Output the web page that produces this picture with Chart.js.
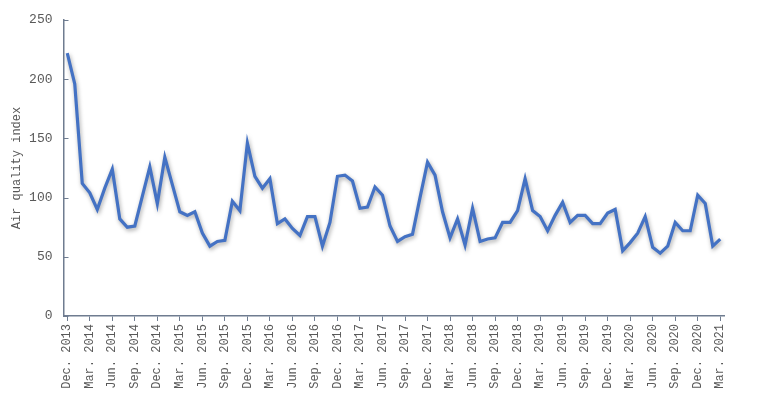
<!DOCTYPE html>
<html>
<head>
<meta charset="utf-8">
<script src="https://cdn.jsdelivr.net/npm/chart.js@4"></script>
<style>
  html, body { margin: 0; padding: 0; background: #fff; }
  #wrap { width: 769px; height: 398px; }
</style>
</head>
<body>
<div id="wrap"><canvas id="aqiChart" width="769" height="398"></canvas></div>
<script>
// monthly air quality index, Dec 2013 - Mar 2021
var monthNames = ['Jan.', 'Feb.', 'Mar.', 'Apr.', 'May.', 'Jun.', 'Jul.', 'Aug.', 'Sep.', 'Oct.', 'Nov.', 'Dec.'];
var aqiValues = [
  222, 196, 112, 104, 90, 108, 124, 82, 75, 76, 101, 126,
  95, 134, 111, 88, 85, 88, 70, 59, 63, 64, 97, 89,
  146, 118, 108, 116, 78, 82, 74, 68, 84, 84, 59, 79,
  118, 119, 114, 91, 92, 109, 102, 76, 63, 67, 69, 100,
  130, 119, 88, 66, 82, 60, 91, 63, 65, 66, 79, 79,
  89, 116, 89, 84, 72, 85, 96, 79, 85, 85, 78, 78,
  87, 90, 55, 62, 70, 84, 58, 53, 59, 79, 72, 72,
  102, 95, 59, 65
];
var yTicks = [0, 50, 100, 150, 200, 250];

var months = [];
for (var i = 0; i < aqiValues.length; i++) {
  var m = (11 + i) % 12;
  var yr = 2013 + Math.floor((11 + i) / 12);
  months.push(monthNames[m] + ' ' + yr);
}

var axisColor = '#6f7c90';
var textColor = '#595959';
var xFont = { family: '"Liberation Mono", monospace', size: 12 };
var yFont = { family: '"Liberation Mono", monospace', size: 13 };

var lineShadow = {
  id: 'lineShadow',
  beforeDatasetsDraw: function(chart) {
    var ctx = chart.ctx;
    ctx.save();
    ctx.shadowColor = 'rgba(0,0,0,0.35)';
    ctx.shadowBlur = 4;
    ctx.shadowOffsetX = 1;
    ctx.shadowOffsetY = 2;
  },
  afterDatasetsDraw: function(chart) {
    chart.ctx.restore();
  }
};

// y ticks point inward, into the plot
var innerYTicks = {
  id: 'innerYTicks',
  afterDraw: function(chart) {
    var ctx = chart.ctx, y = chart.scales.y, left = chart.chartArea.left;
    ctx.save();
    ctx.strokeStyle = axisColor;
    ctx.lineWidth = 1;
    y.ticks.forEach(function(t) {
      var py = Math.round(y.getPixelForValue(t.value)) + 0.5;
      ctx.beginPath();
      ctx.moveTo(left, py);
      ctx.lineTo(left + 5, py);
      ctx.stroke();
    });
    ctx.restore();
  }
};

new Chart(document.getElementById('aqiChart'), {
  type: 'line',
  data: {
    labels: months,
    datasets: [{
      data: aqiValues,
      borderColor: '#4472c4',
      borderWidth: 3.2,
      pointRadius: 0,
      tension: 0,
      fill: false
    }]
  },
  options: {
    responsive: false,
    animation: false,
    layout: { padding: { left: 0, top: 20, right: 45, bottom: 0 } },
    plugins: {
      legend: { display: false },
      tooltip: { enabled: false }
    },
    scales: {
      x: {
        type: 'category',
        offset: true,
        afterFit: function(scale) { scale.height = 82; },
        grid: {
          display: true,
          offset: false,
          drawOnChartArea: false,
          tickLength: 5,
          tickColor: function(c) { return c.index % 3 === 0 ? axisColor : 'rgba(0,0,0,0)'; }
        },
        border: { color: axisColor, width: 1.5 },
        ticks: {
          autoSkip: false,
          minRotation: 90,
          maxRotation: 90,
          padding: 3,
          color: textColor,
          font: xFont,
          callback: function(v, idx) { return idx % 3 === 0 ? months[idx] : ''; }
        }
      },
      y: {
        min: 0,
        max: 250,
        afterFit: function(scale) { scale.width = 63.5; },
        afterBuildTicks: function(scale) { scale.ticks = yTicks.map(function(v) { return { value: v }; }); },
        grid: {
          display: true,
          drawOnChartArea: false,
          drawTicks: false
        },
        border: { color: axisColor, width: 1.5 },
        ticks: { padding: 11, color: textColor, font: yFont },
        title: {
          display: true,
          text: 'Air quality index',
          color: textColor,
          font: xFont,
          padding: { top: 10, bottom: 0 }
        }
      }
    }
  },
  plugins: [lineShadow, innerYTicks]
});
</script>
</body>
</html>
